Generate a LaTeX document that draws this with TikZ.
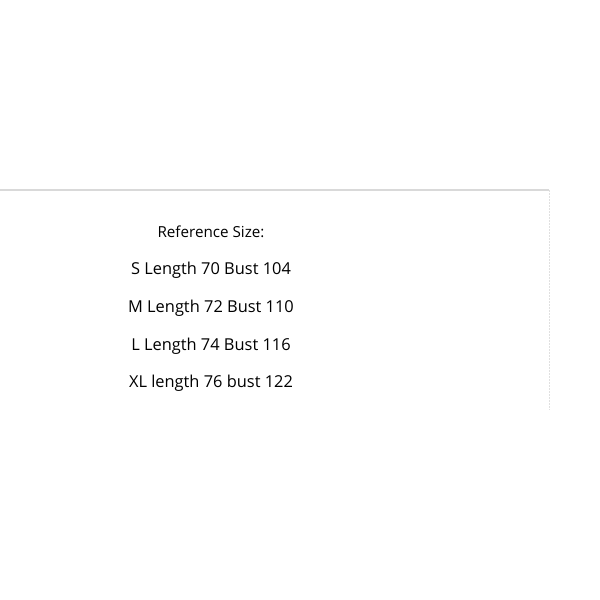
\documentclass[tikz,border=0pt]{standalone}
\usepackage{fontspec}
\setmainfont{Open Sans}
\begin{document}
\begin{tikzpicture}[x=1pt, y=-1pt]
      \tikzstyle{every node}=[font=\fontsize{16.4}{19}\selectfont, inner sep=0pt]
      \tikzstyle{rule}=[draw=black!15, line width=2pt]
      \tikzstyle{edge}=[draw=black!12, line width=0.8pt, dash pattern=on 2pt off 1pt]
      \useasboundingbox (0, 0) rectangle (600, 600);

      \path (211, 232) node[font=\fontsize{15.2}{18}\selectfont] (title) {Reference Size:};
      \foreach \i/\txt in {1/S Length 70 Bust 104, 2/M Length 72 Bust 110,
                           3/L Length 74 Bust 116, 4/XL length 76 bust 122}
      {
        \path (211, 233+\i*37.6) node (size\i) {\txt};
      }

      \coordinate (tl) at (0, 190);
      \coordinate (tr) at (549, 190);
      \coordinate (br) at (549, 410);
      \draw[rule] (tl) -- (tr);
      \draw[edge] (tr) -- (br);
    \end{tikzpicture}
\end{document}
